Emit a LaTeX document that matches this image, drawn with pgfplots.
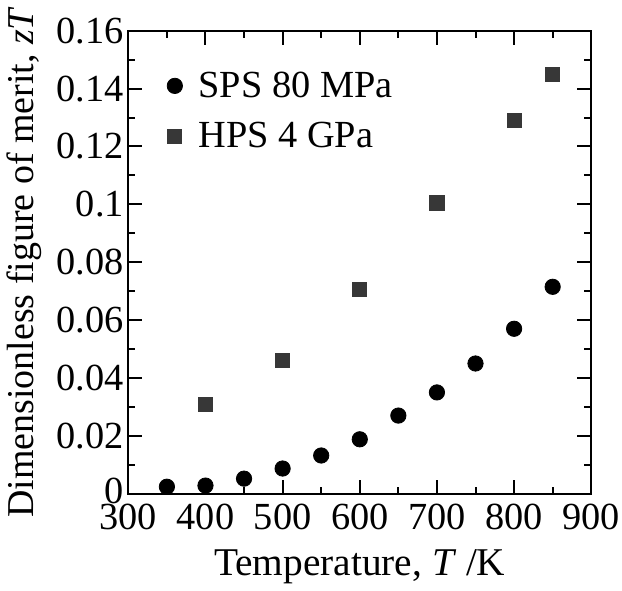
\documentclass[border=0pt]{standalone}
\usepackage{pgfplots}
\pgfplotsset{compat=1.18}
\usepackage{fontspec}
\setmainfont{Liberation Serif}
\definecolor{sqcol}{RGB}{55,55,55}

\begin{document}
\begin{tikzpicture}
\begin{axis}[
  scale only axis,
  width=229.5pt, height=229.5pt,
  xmin=300, xmax=900, ymin=0, ymax=0.16,
  xtick={300,400,...,900},
  minor xtick={350,450,...,850},
  ytick={0,0.02,0.04,0.06,0.08,0.1,0.12,0.14,0.16},
  yticklabels={\raisebox{3pt}{0},0.02,0.04,0.06,0.08,0.1,0.12,0.14,0.16},
  minor ytick={0.01,0.03,...,0.15},
  tick align=inside,
  major tick length=7pt, minor tick length=3.5pt,
  every tick/.style={black, line width=1pt},
  axis line style={line width=1pt},
  tick label style={font=\fontsize{19}{20}\selectfont},
  xlabel style={font=\fontsize{19.5}{21}\selectfont, yshift=-5pt},
  ylabel style={font=\fontsize{18.8}{20}\selectfont, yshift=2pt},
  /pgf/number format/assume math mode=true,
  xticklabel style={yshift=-4pt, inner sep=1pt},
  yticklabel style={inner sep=2pt},
  xlabel={Temperature, \textit{T} /K},
  ylabel={Dimensionless figure of merit, \textit{zT}},
  legend style={at={(0.07,0.93)}, anchor=north west, draw=none, fill=none,
    font=\fontsize{19}{20}\selectfont, row sep=7pt,
    /tikz/every odd column/.append style={column sep=6pt}},
  legend cell align=left,
  clip=false,
]
\addplot[only marks, mark=*, mark size=3.8pt, black] coordinates {
  (350,0.0024) (400,0.0028) (450,0.0052) (500,0.0087) (550,0.0132)
  (600,0.0188) (650,0.0270) (700,0.0350) (750,0.0450) (800,0.0570)
  (850,0.0715)};
\addlegendentry{SPS 80 MPa}
\addplot[only marks, mark=square*, mark size=3.5pt, sqcol] coordinates {
  (400,0.031) (500,0.046) (600,0.0705) (700,0.1005) (800,0.129)
  (850,0.145)};
\addlegendentry{HPS 4 GPa}
\end{axis}
\end{tikzpicture}
\end{document}
